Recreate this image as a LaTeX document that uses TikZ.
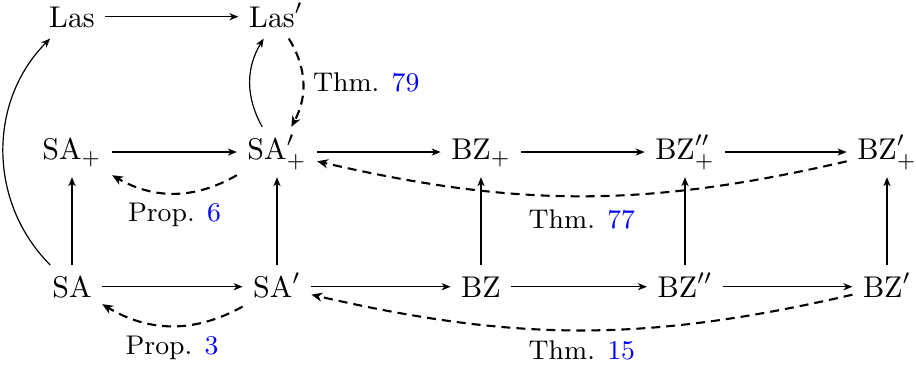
\documentclass[tikz,border=0pt]{standalone}
\usetikzlibrary{arrows.meta}
\begin{document}
\begin{tikzpicture}[x=0.33333pt,y=-0.33333pt,
  cell/.style={anchor=base, inner sep=3.333pt, text height=7.5pt, text depth=0pt},
  cellsub/.style={cell, text depth=2.2pt},
  ar/.style={line width=0.4pt, -{Stealth[length=3pt,width=2.4pt,inset=0.9pt]}},
  dar/.style={line width=0.7pt, dash pattern=on 3pt off 2pt, -{Stealth[length=3.6pt,width=3pt,inset=1.1pt]}},
  lbl/.style={font=\fontsize{9}{11}\selectfont, inner sep=3pt}]
\useasboundingbox (0,0) rectangle (916,367);
% row 1
\node[cell] (las)  at (72,28)  {$\mathrm{Las}$};
\node[cell] (lasp) at (276,28) {$\mathrm{Las}'$};
% row 2
\node[cellsub] (sap)   at (72,160)  {$\mathrm{SA}_+$};
\node[cellsub] (sapp)  at (277,160) {$\mathrm{SA}'_+$};
\node[cellsub] (bzp)   at (481,160) {$\mathrm{BZ}_+$};
\node[cellsub] (bzppp) at (685,160) {$\mathrm{BZ}''_+$};
\node[cellsub] (bzpp)  at (887,160) {$\mathrm{BZ}'_+$};
% row 3
\node[cell] (sa)   at (72,298)  {$\mathrm{SA}$};
\node[cell] (sa1)  at (277,298) {$\mathrm{SA}'$};
\node[cell] (bz)   at (481,298) {$\mathrm{BZ}$};
\node[cell] (bz2)  at (685,298) {$\mathrm{BZ}''$};
\node[cell] (bz1)  at (887,298) {$\mathrm{BZ}'$};
% horizontal
\draw[ar] (las) -- (lasp);
\draw[ar] (sap) -- (sapp);
\draw[ar] (sapp) -- (bzp);
\draw[ar] (bzp) -- (bzppp);
\draw[ar] (bzppp) -- (bzpp);
\draw[ar] (sa) -- (sa1);
\draw[ar] (sa1) -- (bz);
\draw[ar] (bz) -- (bz2);
\draw[ar] (bz2) -- (bz1);
% vertical
\draw[ar] (sa) -- (sap);
\draw[ar] (sa1) -- (sapp);
\draw[ar] (bz) -- (bzp);
\draw[ar] (bz2) -- (bzppp);
\draw[ar] (bz1) -- (bzpp);
% curved solid
\draw[ar] (sa) to[bend left=45] (las);
\draw[ar] (sapp) to[bend left=30] (lasp);
% dashed
\draw[dar] (lasp) to[bend left=30] node[lbl, midway, right] {Thm. \textcolor{blue}{79}} (sapp);
\draw[dar] (sapp) to[bend left=30] node[lbl, midway, below] {Prop. \textcolor{blue}{6}} (sap);
\draw[dar] (sa1) to[bend left=30] node[lbl, midway, below] {Prop. \textcolor{blue}{3}} (sa);
\draw[dar] (bzpp) to[bend left=13] node[lbl, midway, below, yshift=-1.3pt] {Thm. \textcolor{blue}{77}} (sapp);
\draw[dar] (bz1) to[bend left=13] node[lbl, midway, below] {Thm. \textcolor{blue}{15}} (sa1);
\end{tikzpicture}
\end{document}
